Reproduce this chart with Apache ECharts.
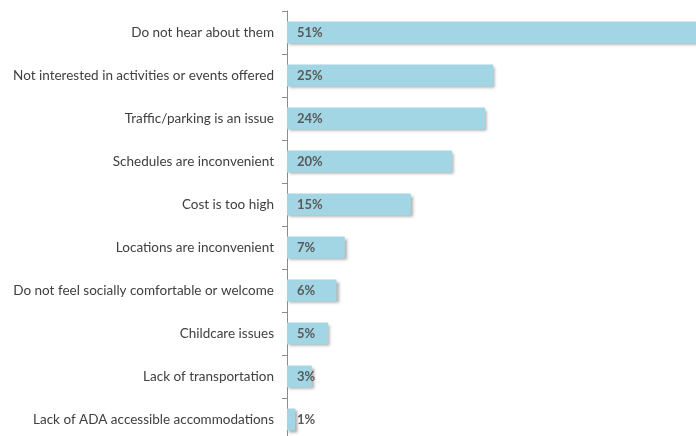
<!DOCTYPE html>
<html>
<head>
<meta charset="utf-8">
<script src="https://cdn.jsdelivr.net/npm/echarts@6/dist/echarts.min.js"></script>
<style>
  html, body { margin: 0; padding: 0; background: #ffffff; overflow: hidden; }
  #wrap { width: 696px; height: 436px; overflow: hidden; position: relative; }
  #chart { width: 708px; height: 441px; position: absolute; left: 0; top: 0; }
</style>
</head>
<body>
<div id="wrap"><div id="chart"></div></div>
<script>
// Reasons for not attending, share of respondents (%)
const categories = [
  'Do not hear about them',
  'Not interested in activities or events offered',
  'Traffic/parking is an issue',
  'Schedules are inconvenient',
  'Cost is too high',
  'Locations are inconvenient',
  'Do not feel socially comfortable or welcome',
  'Childcare issues',
  'Lack of transportation',
  'Lack of ADA accessible accommodations'
];
const values = [51, 25, 24, 20, 15, 7, 6, 5, 3, 1];

const chart = echarts.init(document.getElementById('chart'), null, { renderer: 'canvas' });
chart.setOption({
  animation: false,
  grid: { left: 287, right: 0, top: 11, bottom: 0, containLabel: false },
  xAxis: {
    type: 'value',
    min: 0,
    max: 51,
    show: false
  },
  yAxis: {
    type: 'category',
    data: categories,
    inverse: true,
    axisLine: { show: true, lineStyle: { color: '#8c8c8c', width: 1 } },
    axisTick: { show: true, length: 5, lineStyle: { color: '#8c8c8c' } },
    axisLabel: {
      margin: 13,
      color: '#404040',
      fontFamily: 'Lato',
      fontSize: 13.5
    },
    splitLine: { show: false }
  },
  series: [{
    type: 'bar',
    data: values,
    barCategoryGap: '49%',
    clip: false,
    itemStyle: {
      color: '#a3d6e4',
      shadowColor: 'rgba(0,0,0,0.35)',
      shadowBlur: 3,
      shadowOffsetX: 2,
      shadowOffsetY: 2
    },
    label: {
      show: true,
      position: 'insideLeft',
      distance: 10,
      formatter: '{c}%',
      color: '#595959',
      fontFamily: 'Lato',
      fontWeight: 'bold',
      fontSize: 13
    }
  }]
});
</script>
</body>
</html>
